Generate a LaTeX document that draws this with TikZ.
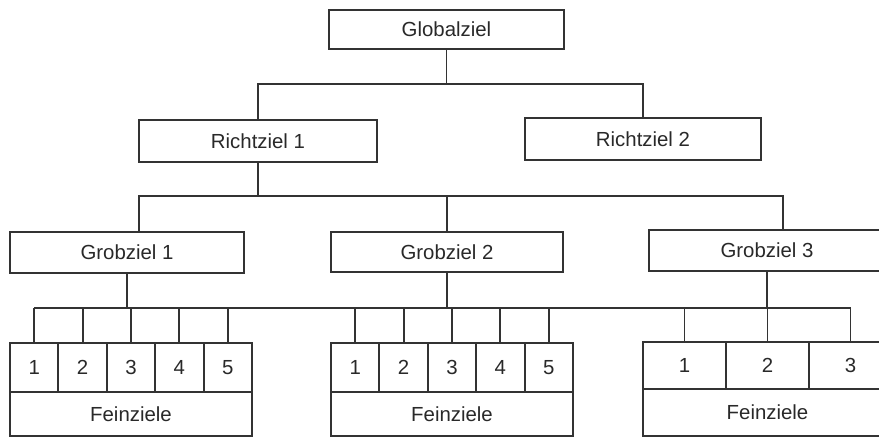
\documentclass[tikz,border=0pt]{standalone}
\usepackage{fontspec}
\setmainfont{Liberation Sans}
\begin{document}
\begin{tikzpicture}[x=0.025cm,y=-0.025cm,
  ziel/.style={draw=zline,line width=1.4pt,fill=white,inner sep=0pt,text=ztext,
    font=\fontsize{14.5}{16}\selectfont},
  zbox/.style 2 args={ziel,minimum width=#1*0.025cm,minimum height=#2*0.025cm},
  verb/.style={draw=zline,line width=1.4pt}]
\definecolor{zline}{rgb}{0.2,0.2,0.2}
\definecolor{ztext}{rgb}{0.16,0.16,0.16}
\useasboundingbox (0,0) rectangle (879,438);
\clip (0,0) rectangle (879,438);
% Ziele
\node[zbox={235}{39}] (global) at (446.5,29.5) {Globalziel};
\node[zbox={238}{42}] (richt1) at (258,141) {Richtziel 1};
\node[zbox={236}{42}] (richt2) at (643,139) {Richtziel 2};
\node[zbox={234}{41}] (grob1) at (127,252.5) {Grobziel 1};
\node[zbox={232}{40}] (grob2) at (447,252) {Grobziel 2};
\node[zbox={236}{41}] (grob3) at (767,250.5) {Grobziel 3};
% Feinziele
\foreach \i in {1,...,5}
  \node[zbox={48.4}{49}] (f1z\i) at ({10+48.4*\i-24.2},367.5) {\i};
\foreach \i in {1,...,5}
  \node[zbox={48.4}{49}] (f2z\i) at ({331+48.4*\i-24.2},367.5) {\i};
\foreach \i in {1,2,3}
  \node[zbox={83}{47}] (f3z\i) at ({643+83*\i-41.5},365.5) {\i};
\node[zbox={242}{44}] (fein1) at (131,414) {Feinziele};
\node[zbox={242}{44}] (fein2) at (452,414) {Feinziele};
\node[zbox={249}{47}] (fein3) at (767.5,412.5) {Feinziele};
% Verbindungen
\coordinate (bus1) at (0,84);
\coordinate (b2l) at (139,196);
\coordinate (b2r) at (783,196);
\coordinate (bus3) at (0,308);
\draw[verb] (global.south) -- (global.south |- bus1);
\draw[verb] (richt1.north) |- (bus1 -| richt2.north) -- (richt2.north);
\draw[verb] (richt1.south) -- (richt1.south |- b2l);
\draw[verb] (b2l |- grob1.north) -- (b2l) -- (b2r) -- (b2r |- grob3.north);
\draw[verb] (grob2.north) -- (grob2.north |- b2l);
\draw[verb] (f1z1.north |- bus3) -- (f3z3.north |- bus3);
\draw[verb] (grob1.south) -- (grob1.south |- bus3);
\draw[verb] (grob2.south) -- (grob2.south |- bus3);
\draw[verb] (grob3.south) -- (grob3.south |- bus3);
\foreach \i in {1,...,5} {
  \draw[verb] (f1z\i.north) -- (f1z\i.north |- bus3);
  \draw[verb] (f2z\i.north) -- (f2z\i.north |- bus3);
}
\foreach \i in {1,2,3}
  \draw[verb] (f3z\i.north) -- (f3z\i.north |- bus3);
\end{tikzpicture}
\end{document}
